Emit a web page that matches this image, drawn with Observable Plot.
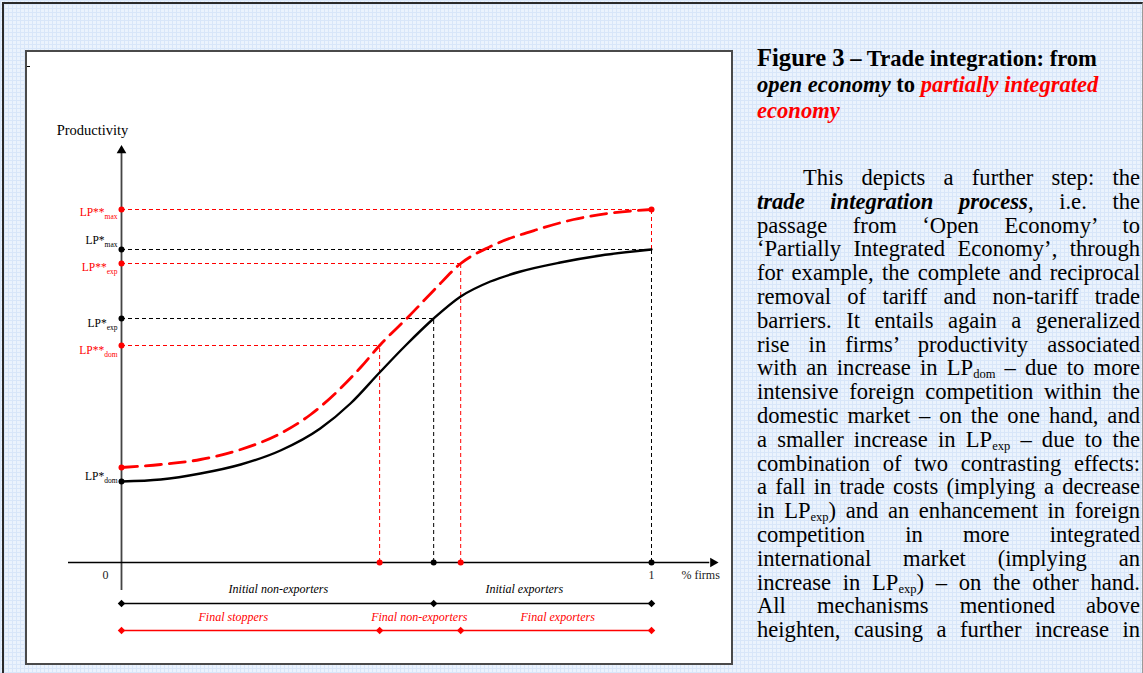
<!DOCTYPE html>
<html>
<head>
<meta charset="utf-8">
<script src="https://cdn.jsdelivr.net/npm/d3@7"></script>
<script src="https://cdn.jsdelivr.net/npm/@observablehq/plot@0.6"></script>
<style>
  html, body { margin:0; padding:0; }
  body {
    width:1143px; height:673px; overflow:hidden; position:relative;
    background-color:#ebf3fd;
    background-image:
      linear-gradient(#d8e6f9 1px, transparent 1px),
      linear-gradient(90deg, #d8e6f9 1px, transparent 1px);
    background-size:4px 4px;
    font-family:"Liberation Serif", "Times New Roman", serif;
  }
  #frame { position:absolute; left:2px; top:2px; width:1138px; height:720px;
    border-top:2px solid #2a2a2a; border-left:2px solid #2a2a2a; border-right:1px solid #9a9a9a; }
  #chartbox { position:absolute; left:25px; top:50px; width:704px; height:611px;
    border:2px solid #4a4a4a; background:#fff; }
  #chartbox svg { display:block; }
  #tick { position:absolute; left:27px; top:66px; width:3px; height:1px; background:#000; }
  #title { position:absolute; left:757px; top:45px; width:386px;
    font-weight:bold; font-size:22.6px; line-height:26px; color:#000; white-space:nowrap; }
  #title .big { font-size:24.6px; }
  #title .red { color:#ff0000; }
  #body { position:absolute; left:757px; top:166px; width:383px; font-size:22.6px; line-height:23.8px; color:#000; }
  #body div { text-align:justify; text-align-last:justify; height:23.8px; }
  #body div.first { text-indent:46px; }
  #body sub { font-size:12.5px; line-height:0; vertical-align:-3px; }
</style>
</head>
<body>
<div id="frame"></div>
<div id="chartbox"></div>
<div id="tick"></div>
<div id="title">
  <span class="big">Figure 3</span> – Trade integration: from<br>
  <i>open economy</i> to <i class="red">partially integrated</i><br>
  <i class="red">economy</i>
</div>
<div id="body">
  <div class="first">This depicts a further step: the</div>
  <div><b><i>trade integration process</i></b>, i.e. the</div>
  <div>passage from ‘Open Economy’ to</div>
  <div>‘Partially Integrated Economy’, through</div>
  <div>for example, the complete and reciprocal</div>
  <div>removal of tariff and non-tariff trade</div>
  <div>barriers. It entails again a generalized</div>
  <div>rise in firms’ productivity associated</div>
  <div>with an increase in LP<sub>dom</sub> – due to more</div>
  <div>intensive foreign competition within the</div>
  <div>domestic market – on the one hand, and</div>
  <div>a smaller increase in LP<sub>exp</sub> – due to the</div>
  <div>combination of two contrasting effects:</div>
  <div>a fall in trade costs (implying a decrease</div>
  <div>in LP<sub>exp</sub>) and an enhancement in foreign</div>
  <div>competition in more integrated</div>
  <div>international market (implying an</div>
  <div>increase in LP<sub>exp</sub>) – on the other hand.</div>
  <div>All mechanisms mentioned above</div>
  <div>heighten, causing a further increase in</div>
</div>
<script>
// ---------- data ----------
const initialX  = [0, 0.074, 0.149, 0.225, 0.300, 0.375, 0.432, 0.487, 0.536, 0.589, 0.640, 0.696, 0.753, 0.828, 0.904, 1];
const initialLP = [0.81, 0.83, 0.89, 0.98, 1.12, 1.34, 1.59, 1.90, 2.17, 2.44, 2.66, 2.81, 2.91, 3.00, 3.07, 3.13];
const finalX    = [0, 0.074, 0.149, 0.225, 0.300, 0.357, 0.413, 0.451, 0.487, 0.540, 0.589, 0.640, 0.696, 0.791, 0.853, 0.917, 1];
const finalLP   = [0.95, 0.98, 1.03, 1.13, 1.29, 1.48, 1.74, 1.95, 2.17, 2.45, 2.72, 2.99, 3.16, 3.34, 3.43, 3.49, 3.53];

const levelNames   = ["LP**", "LP*", "LP**", "LP*", "LP**", "LP*", ""];
const levelSubs    = ["max", "max", "exp", "exp", "dom", "dom", ""];
const levelValues  = [3.53, 3.13, 2.99, 2.44, 2.17, 0.81, 0.95];
const levelSeries  = ["final", "initial", "final", "initial", "final", "initial", "final"];
const levelCutoffs = [1, 1, 0.640, 0.589, 0.487, 0, 0];

const rowInitialBreaks = [0, 0.589, 1];
const rowFinalBreaks   = [0, 0.487, 0.640, 1];
const rowInitialLabels = ["Initial non-exporters", "Initial exporters"];
const rowInitialLabelX = [0.296, 0.760];
const rowFinalLabels   = ["Final stoppers", "Final non-exporters", "Final exporters"];
const rowFinalLabelX   = [0.211, 0.562, 0.823];

const xTickValues = [0, 1];
const xTickLabels = ["0", "1"];
const xAxisTitle = "% firms";
const yAxisTitle = "Productivity";

// ---------- build ----------
const RED = "#ff0000", BLACK = "#000000";
const colorOf = s => s === "final" ? RED : BLACK;

const initialCurve = initialX.map((x, i) => ({x, y: initialLP[i]}));
const finalCurve = finalX.map((x, i) => ({x, y: finalLP[i]}));
const levels = levelValues.map((v, i) => ({
  name: levelNames[i], sub: levelSubs[i], value: v, series: levelSeries[i], cutoff: levelCutoffs[i],
  color: colorOf(levelSeries[i])
}));
const initialMax = d3.max(initialLP);
const guidesH = levels.filter(d => d.cutoff > 0);
const guidesV = guidesH.map(d => ({
  x: d.cutoff, y2: d.value, color: d.color,
  y1: (d.series === "final" && d.cutoff === 1) ? initialMax : 0
}));
const axisDots = levels;
const xDots = guidesH.filter(d => !(d.cutoff === 1 && d.series === "final"))
  .map(d => ({x: d.cutoff, color: d.color}));

const labelNudge = [3, -9, 4, 5, 5, -5];
const labelMarks = levels.filter(d => d.name).map((d, i) =>
  Plot.text([d], {x: 0, y: "value", text: d => d.name + "_" + d.sub, textAnchor: "end",
    dx: -4, dy: labelNudge[i], fill: d.color, fontSize: 11.5})
);

const rowMarks = (breaks, labels, labelX, color, dyLine, dyText) => [
  Plot.ruleY([0], {x1: breaks[0], x2: breaks[breaks.length - 1], dy: dyLine, stroke: color, strokeWidth: 1.5}),
  Plot.dot(breaks, {x: d => d, y: 0, dy: dyLine, symbol: "square", rotate: 45, r: 3, fill: color, stroke: "none"}),
  Plot.text(labels, {x: (d, i) => labelX[i], y: 0, text: d => d, dy: dyText, fill: color,
    fontStyle: "italic", fontSize: 12})
];

const plot = Plot.plot({
  width: 704, height: 611,
  marginLeft: 94, marginRight: 80, marginTop: 93, marginBottom: 101,
  x: {domain: [0, 1], axis: null},
  y: {domain: [0, 4.17], axis: null},
  color: {type: "identity"},
  style: {background: "transparent", fontFamily: "Liberation Serif, Times New Roman, serif", color: "#000"},
  marks: [
    // guide lines
    Plot.ruleY(guidesH, {y: "value", x1: 0, x2: "cutoff", stroke: "color", strokeWidth: 1, strokeDasharray: "4,3"}),
    Plot.ruleX(guidesV, {x: "x", y1: "y1", y2: "y2", stroke: "color", strokeWidth: 1, strokeDasharray: "4,3"}),
    // axes
    Plot.ruleX([0], {y1: -0.28, y2: 4.12, stroke: "#444", strokeWidth: 1.8}),
    Plot.ruleY([0], {x1: -0.1, x2: 1.11, stroke: "#000", strokeWidth: 1.3}),
    Plot.dot([0], {x: 0, y: 4.12, symbol: "triangle", r: 3.6, fill: "#000", stroke: "none"}),
    Plot.dot([0], {x: 1.116, y: 0, symbol: "triangle", rotate: 90, r: 3.6, fill: "#000", stroke: "none"}),
    // curves
    Plot.line(initialCurve, {x: "x", y: "y", stroke: BLACK, strokeWidth: 2.4, curve: "monotone-x"}),
    Plot.line(finalCurve, {x: "x", y: "y", stroke: RED, strokeWidth: 2.8, strokeDasharray: "16,8", curve: "monotone-x"}),
    // dots
    Plot.dot(axisDots, {x: 0, y: "value", r: 3, fill: "color", stroke: "none"}),
    Plot.dot(xDots, {x: "x", y: 0, r: 3, fill: "color", stroke: "none"}),
    Plot.dot([finalLP[finalLP.length - 1]], {x: 1, y: d => d, r: 3, fill: RED, stroke: "none"}),
    // level labels
    ...labelMarks,
    // tick labels & titles
    Plot.text(xTickValues, {x: d => d, y: 0, text: (d, i) => xTickLabels[i], dy: 13, fontSize: 12, fill: "#222",
      filter: d => d === 1}),
    Plot.text([0], {x: 0, y: 0, text: () => xTickLabels[0], dx: -16, dy: 13, fontSize: 12, fill: "#222"}),
    Plot.text([xAxisTitle], {x: 1, y: 0, text: d => d, dx: 30, dy: 13, textAnchor: "start", fontSize: 12, fill: "#222"}),
    Plot.text([yAxisTitle], {x: 0, y: 4.17, text: d => d, dx: -29, dy: -15, fontSize: 14.5, fill: "#000"}),
    // bottom rows
    ...rowMarks(rowInitialBreaks, rowInitialLabels, rowInitialLabelX, BLACK, 41, 27),
    ...rowMarks(rowFinalBreaks, rowFinalLabels, rowFinalLabelX, RED, 68, 55)
  ]
});

// subscripts for level labels
d3.select(plot).selectAll("text").filter(function() { return this.textContent.includes("_"); })
  .each(function() {
    const [main, sub] = this.textContent.split("_");
    const t = d3.select(this);
    t.text(null);
    t.append("tspan").text(main);
    t.append("tspan").attr("font-size", 7.5).attr("dy", 3).text(sub);
  });

document.getElementById("chartbox").appendChild(plot);
</script>
</body>
</html>
